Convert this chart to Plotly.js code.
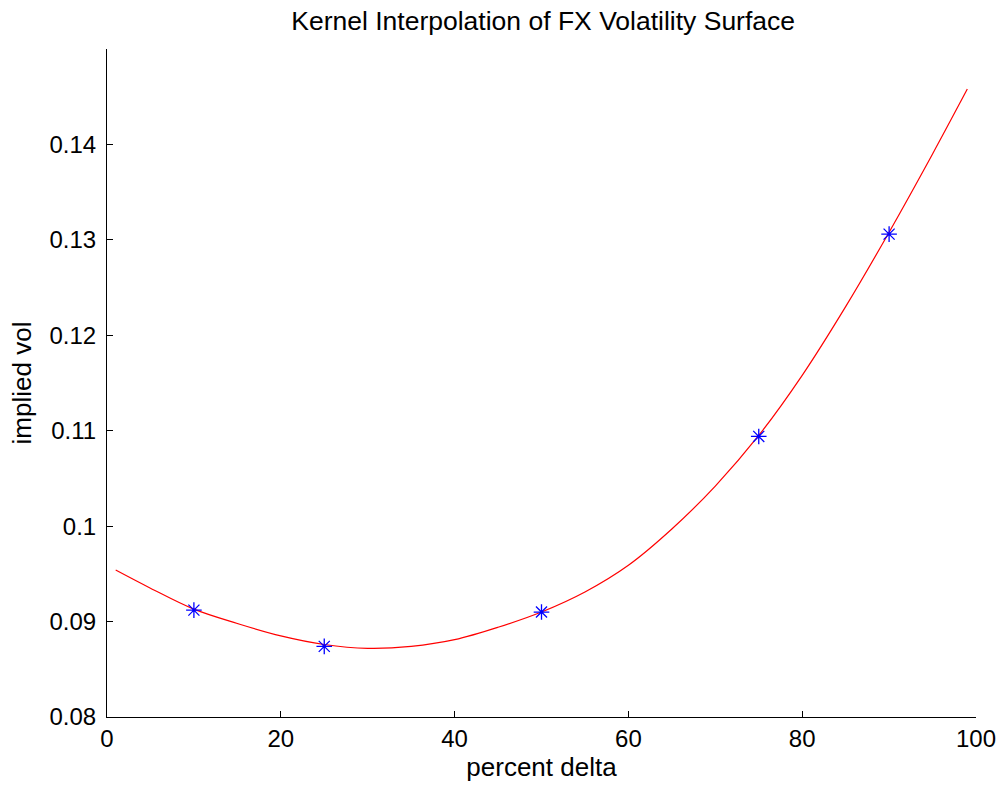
<!DOCTYPE html>
<html>
<head>
<meta charset="utf-8">
<script src="https://cdn.plot.ly/plotly-3.0.1.min.js"></script>
<style>html,body{margin:0;padding:0;background:#fff}#chart{width:1004px;height:787px}</style>
</head>
<body>
<div id="chart"></div>
<script>
// Interpolated curve
const curveX = [1, 5, 10, 15, 20, 25, 30, 35, 40, 45, 50, 55, 60, 65, 70, 75, 80, 85, 90, 95, 99];
const curveY = [0.0954, 0.0935, 0.0913, 0.0898, 0.0885, 0.0876, 0.0872, 0.0874, 0.0881, 0.0894, 0.0910, 0.0931, 0.0959, 0.0997, 0.1042, 0.1095, 0.1158, 0.1230, 0.1308, 0.1390, 0.1458];
// Market quotes
const pointX = [10, 25, 50, 75, 90];
const pointY = [0.0912, 0.0874, 0.0910, 0.1094, 0.1306];
// Tick labels
const xTicks = [0, 20, 40, 60, 80, 100];
const yTicks = [0.08, 0.09, 0.10, 0.11, 0.12, 0.13, 0.14];
const yTickText = ['0.08', '0.09', '0.1', '0.11', '0.12', '0.13', '0.14'];

const font = 'Liberation Sans, Arial, Helvetica, sans-serif';
const data = [
  {x: curveX, y: curveY, mode: 'lines', line: {color: '#ff0000', width: 1.2, shape: 'spline', smoothing: 1}, hoverinfo: 'none'},
  {x: pointX, y: pointY, mode: 'markers', marker: {symbol: 'asterisk-open', size: 13, color: '#0000ff', line: {color: '#0000ff', width: 1.3}}}
];
const layout = {
  width: 1004, height: 787,
  margin: {l: 107, r: 28, t: 49, b: 70},
  paper_bgcolor: '#fff', plot_bgcolor: '#fff',
  showlegend: false,
  font: {family: font, color: '#000', size: 24},
  title: {text: 'Kernel Interpolation of FX Volatility Surface', font: {family: font, size: 26.5, color: '#000'}, x: 0.541, xanchor: 'center', y: 0.974, yanchor: 'middle'},
  xaxis: {
    range: [0, 100], tickvals: xTicks, ticks: 'inside', ticklen: 6, tickcolor: '#000', tickwidth: 1,
    showline: true, linecolor: '#000', linewidth: 1, showgrid: false, zeroline: false,
    tickfont: {family: font, size: 24, color: '#000'},
    title: {text: 'percent delta', font: {family: font, size: 26, color: '#000'}, standoff: 4}
  },
  yaxis: {
    range: [0.08, 0.15], tickvals: yTicks, ticktext: yTickText, ticks: 'inside', ticklen: 6, tickcolor: '#000', tickwidth: 1,
    ticklabelstandoff: 5,
    showline: true, linecolor: '#000', linewidth: 1, showgrid: false, zeroline: false,
    tickfont: {family: font, size: 24, color: '#000'},
    title: {text: 'implied vol', font: {family: font, size: 26, color: '#000'}, standoff: 10}
  }
};
Plotly.newPlot('chart', data, layout, {staticPlot: true, displayModeBar: false});
</script>
</body>
</html>
